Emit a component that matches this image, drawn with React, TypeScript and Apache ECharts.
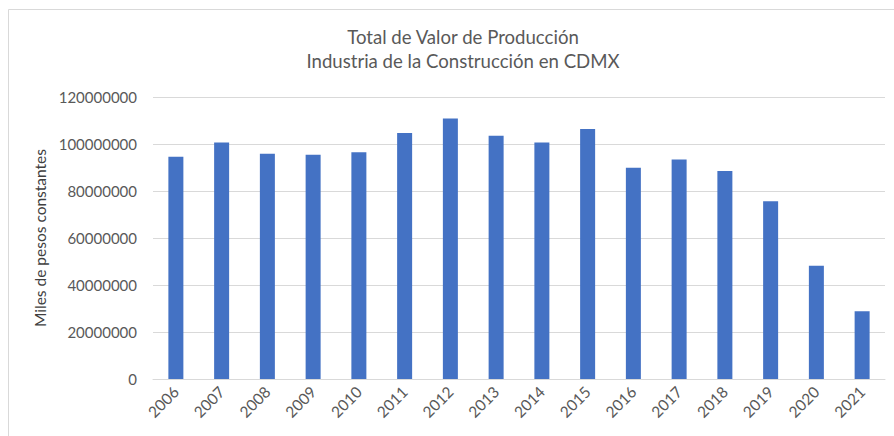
import React, { useEffect, useRef } from "react";
import * as echarts from "echarts";

const years = ["2006", "2007", "2008", "2009", "2010", "2011", "2012", "2013", "2014", "2015", "2016", "2017", "2018", "2019", "2020", "2021"];
const produccion = [94600000, 100600000, 95900000, 95400000, 96500000, 104700000, 110900000, 103500000, 100600000, 106400000, 89900000, 93400000, 88500000, 75600000, 48200000, 28800000];
const titleLines = ["Total de Valor de Producción", "Industria de la Construcción en CDMX"];
const yName = "Miles de pesos constantes";

export default function App() {
  const ref = useRef<HTMLDivElement>(null);
  useEffect(() => {
    if (!ref.current) return;
    const chart = echarts.init(ref.current, null, { renderer: "svg" });
    const font = "Lato";
    chart.setOption({
      animation: false,
      backgroundColor: "#ffffff",
      textStyle: { fontFamily: font },
      title: {
        text: titleLines.join("\n"),
        left: 458,
        top: 20,
        textAlign: "center",
        textStyle: { fontFamily: font, fontSize: 18.6, fontWeight: "normal", color: "#595959", lineHeight: 24 },
      },
      graphic: [
        {
          type: "rect",
          shape: { x: 8.5, y: 9.5, width: 900, height: 500 },
          style: { fill: "none", stroke: "#d9d9d9", lineWidth: 1 },
          silent: true,
          z: -1,
        },
      ],
      grid: { left: 153, right: 9, top: 97, bottom: 57, containLabel: false },
      xAxis: {
        type: "category",
        data: years,
        axisLine: { lineStyle: { color: "#d9d9d9", width: 1 } },
        axisTick: { show: false },
        axisLabel: { rotate: 45, color: "#595959", fontSize: 15.5, fontFamily: font, margin: 10, interval: 0 },
      },
      yAxis: {
        type: "value",
        min: 0,
        max: 120000000,
        interval: 20000000,
        name: yName,
        nameLocation: "middle",
        nameRotate: 90,
        nameGap: 96,
        nameTextStyle: { color: "#404040", fontSize: 15.5, fontFamily: font },
        axisLine: { show: false },
        axisTick: { show: false },
        splitLine: { lineStyle: { color: "#d9d9d9", width: 1 } },
        axisLabel: { color: "#595959", fontSize: 15, fontFamily: font, margin: 16, formatter: (v: number) => String(v) },
      },
      series: [
        {
          type: "bar",
          data: produccion,
          barWidth: 15,
          itemStyle: { color: "#4472C4" },
        },
      ],
    });
    return () => chart.dispose();
  }, []);
  return <div ref={ref} style={{ position: "fixed", left: 0, top: 0, width: 894, height: 436 }} />;
}
